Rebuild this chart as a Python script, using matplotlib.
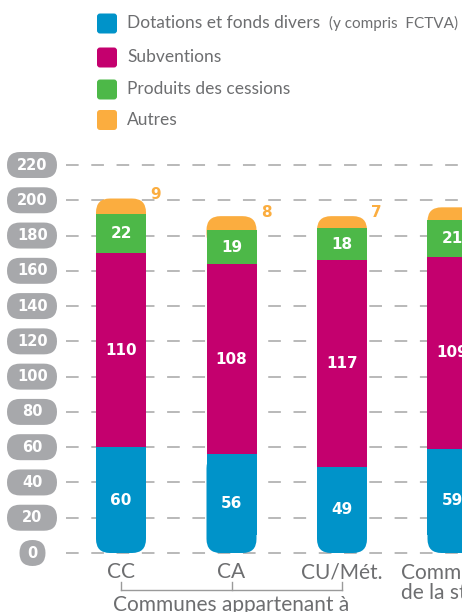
import matplotlib
matplotlib.use("Agg")
import matplotlib.pyplot as plt
from matplotlib.patches import FancyBboxPatch, Rectangle
from matplotlib.transforms import IdentityTransform

# 数据
categories = ["CC", "CA", "CU/Mét.", "Communes\nde la strate"]
dotations = [60, 56, 49, 59]
subventions = [110, 108, 117, 109]
cessions = [22, 19, 18, 21]
autres = [9, 8, 7, 7]
y_ticks = [0, 20, 40, 60, 80, 100, 120, 140, 160, 180, 200, 220]
legend_labels = ["Dotations et fonds divers", "Subventions", "Produits des cessions", "Autres"]

C_BLUE = "#0093c9"
C_MAG = "#c4006e"
C_GREEN = "#4db848"
C_ORANGE = "#fbad3f"
C_PILL = "#a7a8ab"
C_TEXT = "#6d6e70"

LIGHT = ["Lato", "Liberation Sans", "DejaVu Sans"]
BOLD = ["DejaVu Sans"]

W, H = 462, 612
fig = plt.figure(figsize=(W / 100, H / 100), dpi=100)
ax = fig.add_axes([0, 0, 1, 1])
ax.axis("off")

# 坐标范围: 柱间距 110.5 px, 每单位 1.7636 px
px_x = 110.5
px_y = 388 / 220
ax.set_xlim(-121 / px_x, (W - 121) / px_x)
ax.set_ylim(-59 / px_y, 220 + 165 / px_y)

# 虚线网格
for v in y_ticks:
    ax.plot([-55 / px_x, 3.2], [v, v], color="#b3b3b3", lw=1.3,
            linestyle=(0, (7, 7)), zorder=0)

bar_w = 50 / px_x
rx = 14 / px_x
aspect = (14 / px_y) / rx

for i in range(len(categories)):
    left = i - bar_w / 2
    b1 = dotations[i]
    b2 = b1 + subventions[i]
    b3 = b2 + cessions[i]
    b4 = b3 + autres[i]
    # 底部圆角 (蓝色)
    ax.add_patch(FancyBboxPatch((left, 0), bar_w, b1,
                                boxstyle=f"round,pad=0,rounding_size={rx}",
                                mutation_aspect=aspect, fc=C_BLUE, ec="none", zorder=2))
    ax.add_patch(Rectangle((left, 10), bar_w, b1 - 10, fc=C_BLUE, ec="none", zorder=2))
    ax.add_patch(Rectangle((left, b1), bar_w, subventions[i], fc=C_MAG, ec="none", zorder=2))
    # 顶部圆角 (橙色)
    ax.add_patch(FancyBboxPatch((left, b3 - 10), bar_w, b4 - b3 + 10,
                                boxstyle=f"round,pad=0,rounding_size={rx}",
                                mutation_aspect=aspect, fc=C_ORANGE, ec="none", zorder=2))
    ax.add_patch(Rectangle((left, b2), bar_w, cessions[i], fc=C_GREEN, ec="none", zorder=3))

    kw = dict(color="white", fontsize=11, fontweight="bold", family=BOLD,
              ha="center", va="center", zorder=4)
    ax.text(i, b1 / 2, str(dotations[i]), **kw)
    ax.text(i, (b1 + b2) / 2, str(subventions[i]), **kw)
    ax.text(i, (b2 + b3) / 2, str(cessions[i]), **kw)
    ax.text(i + bar_w / 2 + 0.04, b4 + 2, str(autres[i]), color=C_ORANGE,
            fontsize=11, fontweight="bold", family=BOLD, ha="left", va="center", zorder=4)

# 类别标签
for i, lab in enumerate(categories):
    if "\n" in lab:
        ax.text(i, -5.5, lab, color=C_TEXT, fontsize=15, family=LIGHT,
                ha="center", va="top", linespacing=1.0)
    else:
        ax.text(i, -10.8, lab, color=C_TEXT, fontsize=15, family=LIGHT,
                ha="center", va="center")

# 分组括号
yb = -(590 - 553) / px_y
yt = -(582 - 553) / px_y
ax.plot([0, 2], [yb, yb], color="#9a9a9a", lw=1)
for i in range(3):
    ax.plot([i, i], [yb, yt], color="#9a9a9a", lw=1)
ax.text(1, -(595 - 553) / px_y, "Communes appartenant à\nun groupement", color=C_TEXT,
        fontsize=15, family=LIGHT, ha="center", va="top")

# y 轴胶囊标签
ident = IdentityTransform()
for v in y_ticks:
    yd = ax.transData.transform((0, v))[1]
    if v == 0:
        x0, w = 19.5, 26
    else:
        x0, w = 7, 50
    fig.add_artist(FancyBboxPatch((x0, yd - 13), w, 26,
                                  boxstyle="round,pad=0,rounding_size=13",
                                  fc=C_PILL, ec="none", transform=ident))
    fig.text(32.5 / W, yd / H, str(v), color="white", fontsize=10.5,
             fontweight="bold", family=BOLD, ha="center", va="center")

# 图例
leg_colors = [C_BLUE, C_MAG, C_GREEN, C_ORANGE]
leg_y = [23.5, 57.5, 89.5, 120]
for c, lab, yy in zip(leg_colors, legend_labels, leg_y):
    yd = H - yy
    fig.add_artist(FancyBboxPatch((97, yd - 10), 20, 20,
                                  boxstyle="round,pad=0,rounding_size=3",
                                  fc=c, ec="none", transform=ident))
    fig.text(127 / W, yd / H, lab, color=C_TEXT, fontsize=12.5, family=LIGHT,
             ha="left", va="center")
fig.text(329 / W, (H - 23.5) / H, "(y compris  FCTVA)", color=C_TEXT, fontsize=11,
         family=LIGHT, ha="left", va="center")

fig.savefig("out.png", dpi=100)
